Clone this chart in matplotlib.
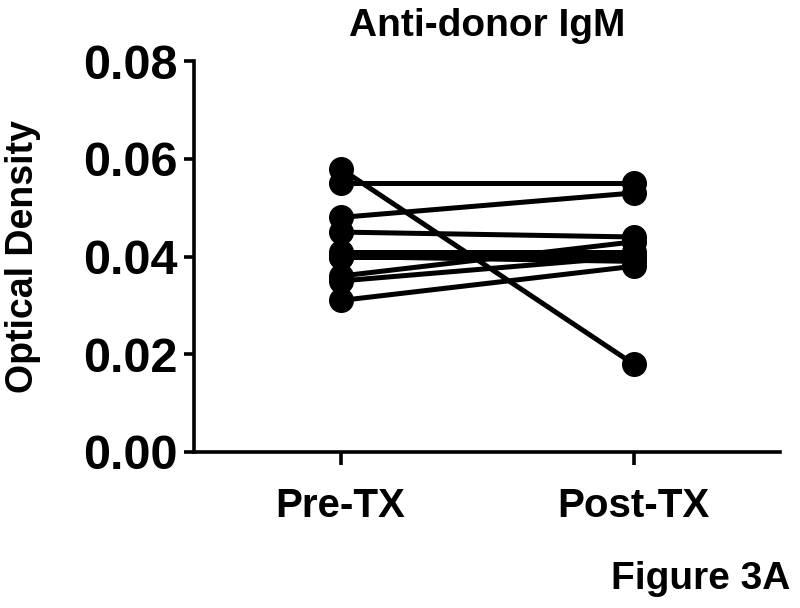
"""
Anti-donor IgM: paired Pre-TX / Post-TX optical density
"""
import matplotlib
matplotlib.use('Agg')
import matplotlib.pyplot as plt

plt.rcParams['font.family'] = ['Liberation Sans', 'DejaVu Sans']
plt.rcParams['font.weight'] = 'bold'

# data
groups = ['Pre-TX', 'Post-TX']
pre_tx = [0.058, 0.055, 0.048, 0.045, 0.041, 0.040, 0.040, 0.036, 0.035, 0.031]
post_tx = [0.018, 0.055, 0.053, 0.044, 0.041, 0.040, 0.039, 0.043, 0.040, 0.038]
y_ticks = [0.00, 0.02, 0.04, 0.06, 0.08]

fig = plt.figure(figsize=(8, 6.08), dpi=100)
ax = fig.add_axes([0.2425, 0.2566, 0.7325, 0.643])

# each subject: one line joining its two values
for a, b in zip(pre_tx, post_tx):
    ax.plot([0, 1], [a, b], color='black', lw=3.6, marker='o',
            markersize=17, markerfacecolor='black', markeredgecolor='black',
            solid_capstyle='round', clip_on=False)

ax.set_xlim(-0.5, 1.5)
ax.set_ylim(0, 0.08)
ax.set_xticks([0, 1])
ax.set_xticklabels(groups, fontsize=29, fontweight='bold')
ax.set_yticks(y_ticks)
ax.set_yticklabels([f'{v:.2f}' for v in y_ticks], fontsize=35, fontweight='bold')

for side in ['top', 'right']:
    ax.spines[side].set_visible(False)
for side in ['left', 'bottom']:
    ax.spines[side].set_linewidth(2.6)

ax.tick_params(axis='y', length=7, width=2.6, pad=5)
ax.tick_params(axis='x', length=9, width=2.6, pad=16)

ax.set_ylabel('Optical Density', fontsize=27, fontweight='bold', labelpad=30)
ax.set_title('Anti-donor IgM', fontsize=28, fontweight='bold', pad=18)

fig.text(0.988, 0.018, 'Figure 3A', ha='right', va='bottom',
         fontsize=28, fontweight='bold')

plt.savefig('out.png', dpi=100)
